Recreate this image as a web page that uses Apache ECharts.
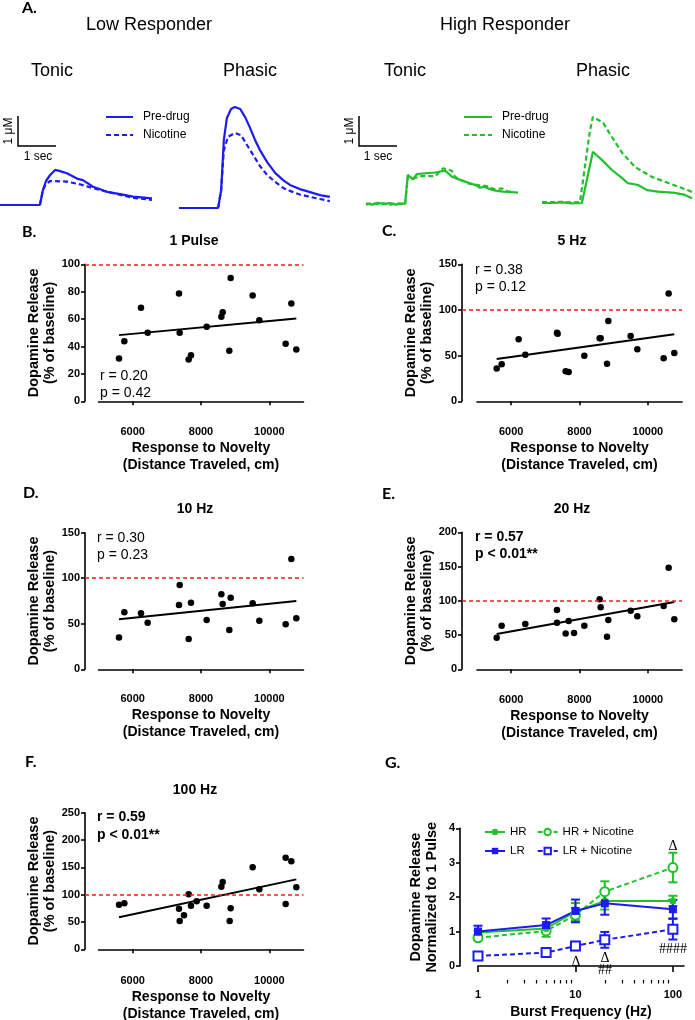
<!DOCTYPE html>
<html><head><meta charset="utf-8">
<script src="https://cdn.jsdelivr.net/npm/echarts@6/dist/echarts.min.js"></script>
<style>html,body{margin:0;padding:0;background:#fff}#c{width:695px;height:1020px}</style>
</head><body><div id="c"></div>
<script>
// ---------------- DATA ----------------
// Panel A traces: [time (s), concentration (uM)]
const lrTonicPre = [[0,0],[0.5,0],[1.05,0],[1.13,0.5],[1.21,0.8],[1.32,1.0],[1.45,1.17],[1.58,1.13],[1.76,1.06],[2.05,0.87],[2.18,0.83],[2.45,0.61],[2.82,0.44],[3.16,0.36],[3.5,0.28],[4.0,0.22]];
const lrTonicNic = [[0,0],[1.05,0],[1.13,0.5],[1.21,0.7],[1.32,0.8],[1.76,0.78],[2.1,0.69],[2.45,0.56],[2.82,0.44],[3.5,0.24],[4.0,0.17]];
const lrPhasicPre = [[0,0],[1.03,0],[1.11,0.6],[1.18,2.27],[1.26,3.0],[1.37,3.3],[1.47,3.37],[1.61,3.3],[1.74,3.03],[1.87,2.67],[2.0,2.27],[2.13,1.93],[2.32,1.53],[2.53,1.17],[2.74,0.93],[2.92,0.77],[3.18,0.63],[3.45,0.53],[3.71,0.43],[3.97,0.37]];
const lrPhasicNic = [[0,0],[1.03,0],[1.11,0.6],[1.18,1.93],[1.29,2.37],[1.47,2.5],[1.63,2.43],[1.79,2.1],[1.95,1.77],[2.13,1.4],[2.32,1.1],[2.53,0.87],[2.74,0.67],[2.92,0.57],[3.18,0.45],[3.45,0.37],[3.71,0.3],[3.97,0.23]];
const hrTonicPre = [[0,0.02],[0.16,-0.02],[0.32,0.04],[0.47,0],[0.63,0.03],[0.79,-0.02],[0.95,0.02],[1.03,0],[1.1,0.97],[1.24,0.82],[1.34,1.0],[1.55,1.02],[1.82,1.05],[2.08,1.11],[2.26,0.91],[2.53,0.78],[2.74,0.69],[2.9,0.62],[3.0,0.54],[3.1,0.58],[3.21,0.52],[3.33,0.47],[3.45,0.44],[3.61,0.41],[3.79,0.4],[4.0,0.38]];
const hrTonicNic = [[0,-0.02],[0.16,0.03],[0.32,0],[0.47,0.02],[0.63,-0.03],[0.79,0.03],[0.95,0],[1.03,0],[1.1,0.9],[1.24,0.85],[1.47,0.93],[1.82,0.93],[2.03,1.19],[2.26,1.11],[2.34,0.91],[2.68,0.69],[2.95,0.63],[3.18,0.6],[3.39,0.49],[3.58,0.52],[3.74,0.41],[3.89,0.43]];
const hrPhasicPre = [[0,0],[0.26,0],[0.53,0.02],[0.79,-0.01],[1.05,0],[1.34,1.71],[1.58,1.43],[1.84,1.1],[2.11,0.83],[2.26,0.66],[2.53,0.6],[2.76,0.43],[3.05,0.38],[3.5,0.34],[3.76,0.27],[3.95,0.16]];
const hrPhasicNic = [[0,0.03],[0.26,0.03],[0.53,0.04],[0.79,0.02],[1.0,0.03],[1.26,2.4],[1.34,2.87],[1.61,2.67],[1.84,2.2],[2.11,1.67],[2.45,1.2],[2.89,0.87],[3.32,0.67],[3.68,0.5],[4.03,0.33]];

// Panels B-F: [distance travelled (cm), dopamine release (% of baseline)]
const pulse1 = [[5600,31.3],[5756,43.9],[6244,68.2],[6439,50],[7356,78.6],[7376,50],[7639,30.6],[7707,33.7],[8166,54.4],[8595,61.7],[8634,65],[8829,36.9],[8868,90],[9512,77.2],[9707,59.2],[10478,42],[10644,71.4],[10790,37.9]];
const hz5 = [[5576,36],[5722,40.5],[6219,68],[6414,51],[7341,75],[7360,74],[7595,33],[7683,32],[8141,50],[8590,69],[8619,69],[8805,41],[8844,88],[9497,71.5],[9692,57],[10463,47],[10609,118],[10775,53]];
const hz10 = [[5600,34.8],[5756,62.6],[6244,61.5],[6439,51.2],[7356,70.6],[7376,92.6],[7639,33.3],[7707,73.2],[8166,54.2],[8595,82.4],[8634,71.7],[8829,43.2],[8868,78.7],[9512,72.5],[9707,53.4],[10478,49.4],[10644,121],[10790,56]];
const hz20 = [[5576,46.2],[5722,63.7],[6414,66.2],[7341,86.6],[7341,68.1],[7595,52.1],[7683,70.6],[7839,53],[8141,63.7],[8590,102.2],[8619,90.5],[8805,47.7],[8844,72],[9497,85.6],[9692,77.4],[10463,92.5],[10609,148.4],[10775,73]];
const hz100 = [[5600,81.7],[5756,84.2],[7356,74.4],[7376,51.8],[7502,62.2],[7639,100.6],[7707,79.9],[7873,87.8],[8166,79.9],[8595,114.6],[8634,123.2],[8839,51.8],[8868,75],[9512,150],[9707,109.8],[10478,82.9],[10478,167.7],[10644,161],[10790,113.4]];
// regression line end points
const fit1 = [[5600,48.3],[10790,60.4]];
const fit5 = [[5576,46.4],[10775,73.4]];
const fit10 = [[5600,54.9],[10790,75]];
const fit20 = [[5576,51.6],[10775,98.3]];
const fit100 = [[5600,58.5],[10790,128]];
const stats1 = ['r = 0.20', 'p = 0.42'];
const stats5 = ['r = 0.38', 'p = 0.12'];
const stats10 = ['r = 0.30', 'p = 0.23'];
const stats20 = ['r = 0.57', 'p < 0.01**'];
const stats100 = ['r = 0.59', 'p < 0.01**'];
const xRange = [5000, 11000];
const xTickValues = [6000, 8000, 10000];
const refLevel = 100;

// Panel G
const freqHz = [1, 5, 10, 20, 100];
const hrMean = [0.97, 1.09, 1.58, 1.89, 1.89];
const hrSem = [0.06, 0.12, 0.25, 0.25, 0.15];
const hrNicMean = [0.82, 1.02, 1.48, 2.16, 2.86];
const hrNicSem = [0.05, 0.17, 0.2, 0.3, 0.43];
const lrMean = [1.0, 1.19, 1.6, 1.82, 1.65];
const lrSem = [0.17, 0.19, 0.33, 0.33, 0.27];
const lrNicMean = [0.29, 0.39, 0.58, 0.76, 1.07];
const lrNicSem = [0.04, 0.05, 0.12, 0.23, 0.3];
const freqMajorTicks = [1, 10, 100];
const freqMinorTicks = [2,3,4,5,6,7,8,9,20,30,40,50,60,70,80,90];

// ---------------- STYLE / LAYOUT ----------------
const FONT = '"Liberation Sans", Arial, sans-serif';
const LETTER_FONT = 'Lato, "Open Sans", sans-serif';
const SERIF = '"Liberation Serif", "DejaVu Serif", serif';
const BLUE = '#1c1cf0', GREEN = '#22c02c', RED = '#ff1a1a';
const DASH = [5, 3];
const plainNum = v => String(v);

const grid = [], xAxis = [], yAxis = [], series = [], graphic = [];

function txt(s, x, y, o) {
  o = o || {};
  graphic.push({type: 'text', x: x, y: y, rotation: o.rot || 0, silent: true, z: 50,
    style: {text: s, fill: '#000', fontSize: o.size || 14, fontWeight: o.weight || 'normal',
      fontFamily: o.family || FONT, align: o.align || 'center', verticalAlign: 'middle'}});
}
function pline(points, color, width, dash) {
  graphic.push({type: 'polyline', silent: true, z: 50, shape: {points: points},
    style: {stroke: color, lineWidth: width, fill: null, lineDash: dash || null}});
}

// Trace panels (fixed scale: 38 px per s, 30 px per uM)
function addTrace(ox, oy, pre, nic, color) {
  const pxS = 38, pxU = 30, tMax = 4.1, vMin = -0.5, vMax = 4;
  const gi = grid.length;
  grid.push({left: ox, top: oy - vMax * pxU, width: tMax * pxS, height: (vMax - vMin) * pxU, outerBoundsMode: 'none'});
  const xi = xAxis.length, yi = yAxis.length;
  xAxis.push({gridIndex: gi, type: 'value', min: 0, max: tMax, show: false});
  yAxis.push({gridIndex: gi, type: 'value', min: vMin, max: vMax, show: false});
  series.push({type: 'line', xAxisIndex: xi, yAxisIndex: yi, data: pre, symbol: 'none', silent: true,
    lineStyle: {color: color, width: 2.2}});
  series.push({type: 'line', xAxisIndex: xi, yAxisIndex: yi, data: nic, symbol: 'none', silent: true,
    lineStyle: {color: color, width: 2.2, type: DASH}});
}

const axisLineStyle = {show: true, lineStyle: {color: '#000', width: 1.6}};
const tickLabel = {color: '#000', fontSize: 11, fontWeight: 'bold', fontFamily: FONT, formatter: plainNum};
const nameStyle = {color: '#000', fontSize: 14.5, fontWeight: 'bold', fontFamily: FONT, lineHeight: 16};

function addScatter(L, pts, fit, yMax, yInt) {
  const w = L.xEnd - L.xStart, h = L.yBottom - L.yTop;
  const unitsPerPx = (xRange[1] - xRange[0]) / w;
  // data grid (starts at y axis)
  const gD = grid.length;
  grid.push({left: L.yAxisX, top: L.yTop, width: L.xEnd - L.yAxisX, height: h, outerBoundsMode: 'none'});
  const xD = xAxis.length, yD = yAxis.length;
  xAxis.push({gridIndex: gD, type: 'value', show: false,
    min: xRange[0] - (L.xStart - L.yAxisX) * unitsPerPx, max: xRange[1]});
  yAxis.push({gridIndex: gD, type: 'value', min: 0, max: yMax, interval: yInt,
    axisLine: axisLineStyle, axisTick: {show: true, length: 4, lineStyle: {width: 1.6, color: '#000'}},
    axisLabel: Object.assign({margin: 5}, tickLabel), splitLine: {show: false},
    name: 'Dopamine Release\n(% of baseline)', nameLocation: 'middle', nameRotate: 90,
    nameGap: L.yNameGap, nameTextStyle: nameStyle});
  // axis grid (x axis only, offset below)
  const gA = grid.length;
  grid.push({left: L.xStart, top: L.yTop, width: w, height: h, outerBoundsMode: 'none'});
  xAxis.push({gridIndex: gA, type: 'value', position: 'bottom', min: xRange[0], max: xRange[1], offset: L.xAxisY - L.yBottom,
    axisLine: axisLineStyle,
    axisTick: {show: true, length: 4, customValues: xTickValues, lineStyle: {width: 1.6, color: '#000'}},
    axisLabel: Object.assign({margin: 10, customValues: xTickValues}, tickLabel),
    splitLine: {show: false},
    name: 'Response to Novelty\n(Distance Traveled, cm)', nameLocation: 'middle', nameGap: 24,
    nameTextStyle: Object.assign({}, nameStyle, {fontSize: 14, lineHeight: 17})});
  yAxis.push({gridIndex: gA, type: 'value', min: 0, max: yMax, show: false});

  series.push({type: 'line', xAxisIndex: xD, yAxisIndex: yD, data: fit, symbol: 'none', silent: true,
    lineStyle: {color: '#000', width: 2}, z: 3,
    markLine: {silent: true, symbol: ['none', 'none'], label: {show: false},
      lineStyle: {color: RED, type: [4, 3], width: 1.5}, data: [{yAxis: refLevel}]}});
  series.push({type: 'scatter', xAxisIndex: xD, yAxisIndex: yD, data: pts, symbol: 'circle',
    symbolSize: 6.5, itemStyle: {color: '#000', opacity: 1}, silent: true, z: 4});
}

// ---------------- PANEL A ----------------
addTrace(0, 205, lrTonicPre, lrTonicNic, BLUE);
addTrace(179, 208, lrPhasicPre, lrPhasicNic, BLUE);
addTrace(366, 204, hrTonicPre, hrTonicNic, GREEN);
addTrace(542, 203, hrPhasicPre, hrPhasicNic, GREEN);

txt('A.', 22, 8, {size: 16, weight: 'bold', family: LETTER_FONT, align: 'left'});
txt('Low Responder', 149, 25, {size: 18});
txt('High Responder', 505, 25, {size: 18});
txt('Tonic', 52, 71, {size: 18});
txt('Phasic', 250, 71, {size: 18});
txt('Tonic', 405, 71, {size: 18});
txt('Phasic', 603, 71, {size: 18});
// scale bars
pline([[18, 116], [18, 146], [56, 146]], '#000', 1.5);
pline([[359, 116], [359, 146], [397, 146]], '#000', 1.5);
txt('1 μM', 9, 131, {size: 12, rot: Math.PI / 2});
txt('1 μM', 350, 131, {size: 12, rot: Math.PI / 2});
txt('1 sec', 38, 157, {size: 12});
txt('1 sec', 378, 157, {size: 12});
// legends
pline([[106, 117], [133, 117]], BLUE, 2);
pline([[106, 135], [133, 135]], BLUE, 2, DASH);
txt('Pre-drug', 143, 117, {size: 12, align: 'left'});
txt('Nicotine', 143, 135, {size: 12, align: 'left'});
pline([[464, 117], [492, 117]], GREEN, 2);
pline([[464, 135], [492, 135]], GREEN, 2, DASH);
txt('Pre-drug', 502, 117, {size: 12, align: 'left'});
txt('Nicotine', 502, 135, {size: 12, align: 'left'});

// ---------------- PANELS B-F ----------------
const layB = {yAxisX: 85, xStart: 98.5, xEnd: 303.5, yTop: 264.3, yBottom: 401.3, xAxisY: 416, yNameGap: 24};
const layC = {yAxisX: 462, xStart: 477, xEnd: 682, yTop: 264.3, yBottom: 401.3, xAxisY: 416, yNameGap: 23};
const layD = {yAxisX: 85, xStart: 98.5, xEnd: 303.5, yTop: 532.7, yBottom: 669.3, xAxisY: 683, yNameGap: 24};
const layE = {yAxisX: 462, xStart: 477, xEnd: 682, yTop: 532.3, yBottom: 669.3, xAxisY: 684, yNameGap: 23};
const layF = {yAxisX: 85, xStart: 98.5, xEnd: 303.5, yTop: 812.7, yBottom: 949.3, xAxisY: 965, yNameGap: 24};
addScatter(layB, pulse1, fit1, 100, 20);
addScatter(layC, hz5, fit5, 150, 50);
addScatter(layD, hz10, fit10, 150, 50);
addScatter(layE, hz20, fit20, 200, 50);
addScatter(layF, hz100, fit100, 250, 50);

txt('B.', 22, 232, {size: 16, weight: 'bold', family: LETTER_FONT, align: 'left'});
txt('C.', 382, 231, {size: 16, weight: 'bold', family: LETTER_FONT, align: 'left'});
txt('D.', 23, 493, {size: 16, weight: 'bold', family: LETTER_FONT, align: 'left'});
txt('E.', 382, 494, {size: 16, weight: 'bold', family: LETTER_FONT, align: 'left'});
txt('F.', 25, 762, {size: 16, weight: 'bold', family: LETTER_FONT, align: 'left'});
txt('G.', 385, 763, {size: 16, weight: 'bold', family: LETTER_FONT, align: 'left'});

txt('1 Pulse', 194, 241, {weight: 'bold'});
txt('5 Hz', 572, 241, {weight: 'bold'});
txt('10 Hz', 195, 509, {weight: 'bold'});
txt('20 Hz', 572, 509, {weight: 'bold'});
txt('100 Hz', 195, 790, {weight: 'bold'});

txt(stats1[0], 100, 376, {align: 'left'});
txt(stats1[1], 100, 393, {align: 'left'});
txt(stats5[0], 475, 270, {align: 'left'});
txt(stats5[1], 475, 287, {align: 'left'});
txt(stats10[0], 97, 538, {align: 'left'});
txt(stats10[1], 97, 555, {align: 'left'});
txt(stats20[0], 475, 537, {align: 'left', weight: 'bold'});
txt(stats20[1], 475, 554, {align: 'left', weight: 'bold'});
txt(stats100[0], 97, 817, {align: 'left', weight: 'bold'});
txt(stats100[1], 97, 835, {align: 'left', weight: 'bold'});

// ---------------- PANEL G ----------------
const layG = {yAxisX: 460, xStart: 478, xEnd: 684, yTop: 828.3, yBottom: 966, xAxisY: 980};
const gG = grid.length;
grid.push({left: layG.xStart, top: layG.yTop, width: layG.xEnd - layG.xStart, height: layG.yBottom - layG.yTop, outerBoundsMode: 'none'});
const xG = xAxis.length;
xAxis.push({gridIndex: gG, type: 'log', logBase: 10, min: 1, max: 130, position: 'bottom', offset: layG.xAxisY - layG.yBottom,
  axisLine: axisLineStyle,
  axisTick: {show: true, length: 6, customValues: freqMajorTicks, lineStyle: {width: 1.6, color: '#000'}},
  axisLabel: Object.assign({margin: 9.5, customValues: freqMajorTicks}, tickLabel),
  splitLine: {show: false}, minorTick: {show: false},
  name: 'Burst Frequency (Hz)', nameLocation: 'middle', nameGap: 24,
  nameTextStyle: Object.assign({}, nameStyle, {fontSize: 14})});
xAxis.push({gridIndex: gG, type: 'log', logBase: 10, min: 1, max: 130, position: 'bottom', offset: layG.xAxisY - layG.yBottom,
  axisLine: {show: false}, axisLabel: {show: false}, splitLine: {show: false},
  axisTick: {show: true, length: 3.5, customValues: freqMinorTicks, lineStyle: {width: 1.2, color: '#000'}}});
const yG = yAxis.length;
yAxis.push({gridIndex: gG, type: 'value', min: 0, max: 4, interval: 1, offset: layG.xStart - layG.yAxisX,
  axisLine: axisLineStyle, axisTick: {show: true, length: 4, lineStyle: {width: 1.6, color: '#000'}},
  axisLabel: Object.assign({margin: 5}, tickLabel), splitLine: {show: false},
  name: 'Dopamine Release\nNormalized to 1 Pulse', nameLocation: 'middle', nameRotate: 90, nameGap: 20,
  nameTextStyle: nameStyle});

function errSeries(mean, sem, color) {
  return {type: 'custom', xAxisIndex: xG, yAxisIndex: yG, silent: true, z: 2,
    data: freqHz.map((f, i) => [f, mean[i], sem[i]]),
    encode: {x: 0, y: 1},
    renderItem: function (params, api) {
      const x = api.value(0), y = api.value(1), e = api.value(2);
      const t = api.coord([x, y + e]), b = api.coord([x, y - e]);
      const hw = 4.5, st = {stroke: color, lineWidth: 2};
      return {type: 'group', children: [
        {type: 'line', shape: {x1: t[0], y1: t[1], x2: b[0], y2: b[1]}, style: st},
        {type: 'line', shape: {x1: t[0] - hw, y1: t[1], x2: t[0] + hw, y2: t[1]}, style: st},
        {type: 'line', shape: {x1: b[0] - hw, y1: b[1], x2: b[0] + hw, y2: b[1]}, style: st}
      ]};
    }};
}
function meanSeries(name, mean, color, symbol, size, dashed) {
  return {type: 'line', name: name, xAxisIndex: xG, yAxisIndex: yG, silent: true, z: 3,
    data: freqHz.map((f, i) => [f, mean[i]]), symbol: symbol, symbolSize: size, showSymbol: true,
    itemStyle: {color: color, borderWidth: 2},
    lineStyle: {color: color, width: 2, type: dashed ? DASH : 'solid'}};
}
series.push(errSeries(hrNicMean, hrNicSem, GREEN));
series.push(errSeries(hrMean, hrSem, GREEN));
series.push(errSeries(lrNicMean, lrNicSem, BLUE));
series.push(errSeries(lrMean, lrSem, BLUE));
series.push(meanSeries('HR + Nicotine', hrNicMean, GREEN, 'emptyCircle', 9, true));
series.push(meanSeries('HR', hrMean, GREEN, 'circle', 7, false));
series.push(meanSeries('LR + Nicotine', lrNicMean, BLUE, 'emptyRect', 9, true));
series.push(meanSeries('LR', lrMean, BLUE, 'rect', 8, false));

const legendText = {color: '#000', fontSize: 11.5, fontFamily: FONT};
const legend = [
  {data: ['HR', 'HR + Nicotine'], left: 479, top: 821, itemWidth: 20, itemHeight: 8, itemGap: 10,
    selectedMode: false, textStyle: legendText},
  {data: ['LR', 'LR + Nicotine'], left: 479, top: 840, itemWidth: 20, itemHeight: 8, itemGap: 12,
    selectedMode: false, textStyle: legendText}
];

txt('Δ', 673, 846, {family: SERIF, size: 14});
txt('Δ', 576, 962, {family: SERIF, size: 14});
txt('Δ', 605, 958, {family: SERIF, size: 14});
txt('##', 605, 970, {family: SERIF, size: 14});
txt('####', 673, 949, {family: SERIF, size: 14});

const chart = echarts.init(document.getElementById('c'), null, {renderer: 'canvas'});
chart.setOption({
  animation: false,
  backgroundColor: '#fff',
  grid: grid, xAxis: xAxis, yAxis: yAxis, series: series, legend: legend, graphic: graphic
});
</script></body></html>
